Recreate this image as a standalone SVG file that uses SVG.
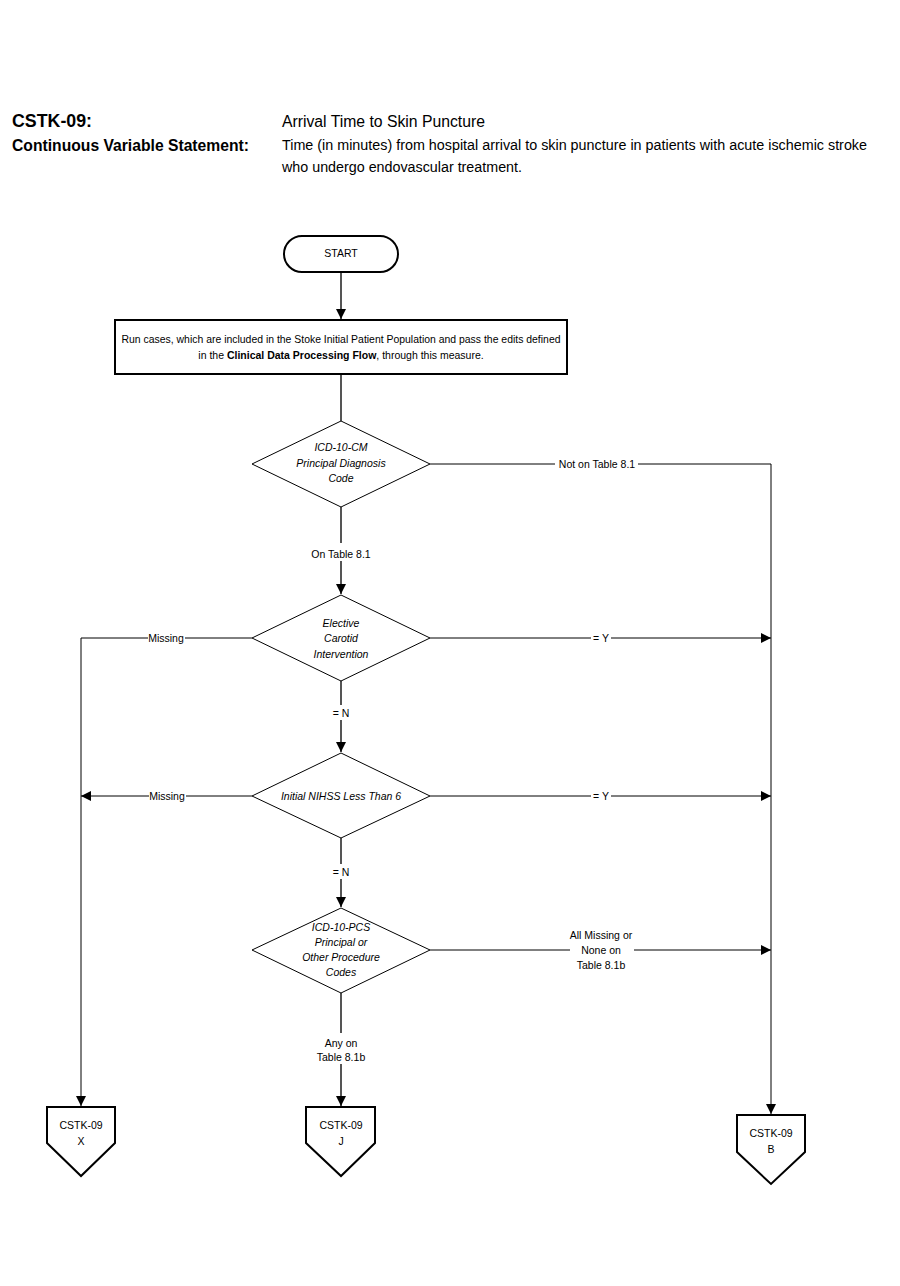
<svg xmlns="http://www.w3.org/2000/svg" width="900" height="1286" viewBox="0 0 900 1286">
<defs>
<marker id="arrL" viewBox="0 0 10 10" refX="10" refY="5" markerWidth="10" markerHeight="10" markerUnits="userSpaceOnUse" orient="auto"><path d="M0,0 L10,5 L0,10 z" fill="#000"/></marker>
</defs>
<style>
text{font-family:"Liberation Sans",Arial,sans-serif;fill:#000}
.h{font-weight:bold;font-size:18px}
.hs{font-size:16px}
.t{font-size:10.5px;text-anchor:middle}
.i{font-style:italic}
.b{font-weight:bold}
.node{fill:#fff;stroke:#000;stroke-width:2}
.dia{fill:#fff;stroke:#000;stroke-width:1}
.c{fill:none;stroke:#000;stroke-width:1}
.g{fill:none;stroke:#555;stroke-width:2}
.lbl{fill:#fff}
</style>
<rect width="900" height="1286" fill="#fff"/>
<g id="header">
<text class="h" x="12" y="127" textLength="80" lengthAdjust="spacingAndGlyphs">CSTK-09:</text>
<text class="h" x="12" y="151" style="font-size:16.5px" textLength="237" lengthAdjust="spacingAndGlyphs">Continuous Variable Statement:</text>
<text class="hs" x="282" y="127" textLength="203" lengthAdjust="spacingAndGlyphs">Arrival Time to Skin Puncture</text>
<text x="282" y="150" style="font-size:14px" textLength="585" lengthAdjust="spacingAndGlyphs">Time (in minutes) from hospital arrival to skin puncture in patients with acute ischemic stroke</text>
<text x="282" y="172" style="font-size:14px" textLength="240" lengthAdjust="spacingAndGlyphs">who undergo endovascular treatment.</text>
</g>
<g id="connectors">
<line class="g" x1="341" y1="272" x2="341" y2="319" marker-end="url(#arrL)"/>
<line class="g" x1="341" y1="374" x2="341" y2="421"/>
<polyline class="c" points="430,464 555,464"/>
<polyline class="c" points="638,464 771,464 771,1114" marker-end="url(#arrL)"/>
<text class="t" x="597" y="468">Not on Table 8.1</text>
<line class="g" x1="341" y1="507" x2="341" y2="543"/>
<line class="g" x1="341" y1="561" x2="341" y2="594" marker-end="url(#arrL)"/>
<text class="t" x="341" y="558">On Table 8.1</text>
<polyline class="c" points="430,638 771,638" marker-end="url(#arrL)"/>
<rect class="lbl" x="591" y="632" width="20" height="12"/>
<text class="t" x="601" y="642">= Y</text>
<polyline class="c" points="252,638 81,638 81,1106" marker-end="url(#arrL)"/>
<rect class="lbl" x="148" y="632" width="37" height="12"/>
<text class="t" x="166" y="642">Missing</text>
<line class="g" x1="341" y1="681" x2="341" y2="705"/>
<line class="g" x1="341" y1="720" x2="341" y2="752" marker-end="url(#arrL)"/>
<text class="t" x="341" y="717">= N</text>
<polyline class="c" points="252,796 81,796" marker-end="url(#arrL)"/>
<rect class="lbl" x="149" y="790" width="37" height="12"/>
<text class="t" x="167" y="800">Missing</text>
<polyline class="c" points="430,796 771,796" marker-end="url(#arrL)"/>
<rect class="lbl" x="591" y="790" width="20" height="12"/>
<text class="t" x="601" y="800">= Y</text>
<line class="g" x1="341" y1="838" x2="341" y2="864"/>
<line class="g" x1="341" y1="879" x2="341" y2="907" marker-end="url(#arrL)"/>
<text class="t" x="341" y="876">= N</text>
<line class="c" x1="430" y1="950" x2="570" y2="950"/>
<line class="c" x1="634" y1="950" x2="771" y2="950" marker-end="url(#arrL)"/>
<text class="t" x="601" y="939">All Missing or</text>
<text class="t" x="601" y="954">None on</text>
<text class="t" x="601" y="969">Table  8.1b</text>
<line class="g" x1="341" y1="993" x2="341" y2="1033"/>
<line class="g" x1="341" y1="1064" x2="341" y2="1106" marker-end="url(#arrL)"/>
<text class="t" x="341" y="1047">Any on</text>
<text class="t" x="341" y="1061">Table 8.1b</text>
</g>
<g id="start">
<rect class="node" x="284" y="236" width="114" height="36" rx="18"/>
<text class="t" x="341" y="257">START</text>
</g>
<g id="process">
<rect class="node" x="115" y="320" width="452" height="54"/>
<text class="t" x="341" y="343" textLength="439" lengthAdjust="spacingAndGlyphs">Run cases, which are included in the Stoke Initial Patient Population and pass the edits defined</text>
<text class="t" x="341" y="359">in the <tspan class="b">Clinical Data Processing Flow</tspan>, through this measure.</text>
</g>
<g id="d1">
<polygon class="dia" points="341,421 430,464 341,507 252,464"/>
<text class="t i" x="341" y="451">ICD-10-CM</text>
<text class="t i" x="341" y="467">Principal Diagnosis</text>
<text class="t i" x="341" y="482">Code</text>
</g>
<g id="d2">
<polygon class="dia" points="341,595 430,638 341,681 252,638"/>
<text class="t i" x="341" y="627">Elective</text>
<text class="t i" x="341" y="642">Carotid</text>
<text class="t i" x="341" y="658">Intervention</text>
</g>
<g id="d3">
<polygon class="dia" points="341,753 430,796 341,838 252,796"/>
<text class="t i" x="341" y="800">Initial NIHSS Less Than 6</text>
</g>
<g id="d4">
<polygon class="dia" points="341,908 430,950 341,993 252,950"/>
<text class="t i" x="341" y="931">ICD-10-PCS</text>
<text class="t i" x="341" y="946">Principal or</text>
<text class="t i" x="341" y="961">Other Procedure</text>
<text class="t i" x="341" y="976">Codes</text>
</g>
<g id="offX">
<polygon class="node" points="47,1107 115,1107 115,1143 81,1176 47,1143"/>
<text class="t" x="81" y="1129">CSTK-09</text>
<text class="t" x="81" y="1145">X</text>
</g>
<g id="offJ">
<polygon class="node" points="306,1107 375,1107 375,1143 341,1176 306,1143"/>
<text class="t" x="341" y="1129">CSTK-09</text>
<text class="t" x="341" y="1145">J</text>
</g>
<g id="offB">
<polygon class="node" points="737,1115 805,1115 805,1152 771,1184 737,1152"/>
<text class="t" x="771" y="1137">CSTK-09</text>
<text class="t" x="771" y="1153">B</text>
</g>
</svg>
